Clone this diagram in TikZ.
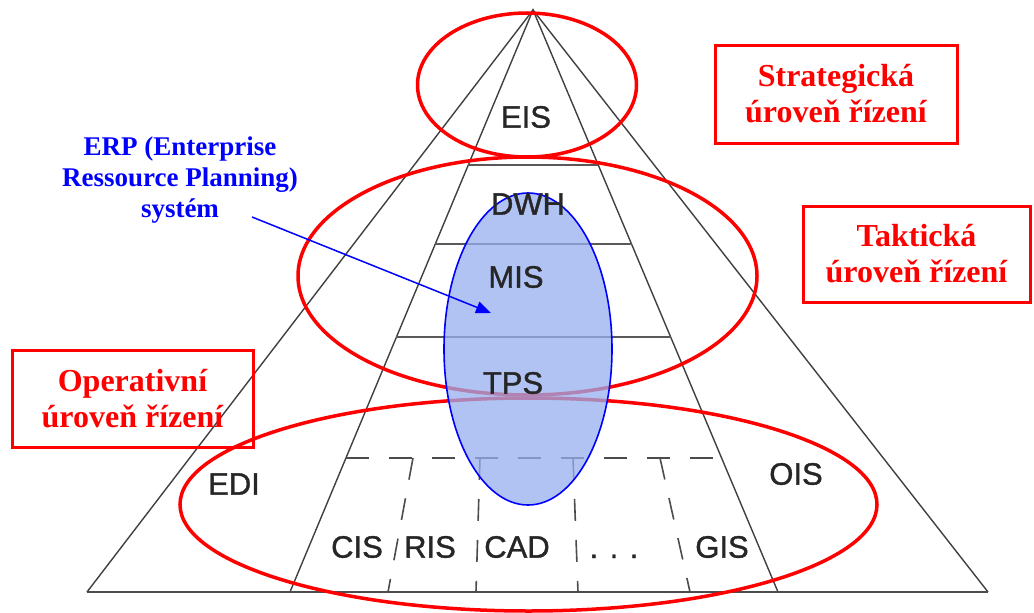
\documentclass[tikz,border=0pt]{standalone}
\usepackage{fontspec}
\setmainfont{Liberation Serif}
\setsansfont{Liberation Sans}
\newfontface\sysface{Liberation Sans}[FakeBold=1.2]
\usetikzlibrary{calc,arrows.meta}

\begin{document}
\begin{tikzpicture}[x=1pt,y=-1pt,
  edge/.style={draw=black!75, line width=1.4pt},
  baseline/.style={draw=black!70, line width=2pt},
  sep/.style={draw=black!65, line width=1.8pt},
  dsep/.style={draw=black!70, line width=1.6pt, dash pattern=on 23pt off 20pt},
  level/.style={draw=red, line width=3.5pt},
  erp/.style={draw=blue, line width=1.6pt, fill={rgb,255:red,150;green,175;blue,238}, fill opacity=0.75},
  sys/.style={font=\sysface\fontsize{31}{36}\selectfont, text=black!85, inner sep=0pt},
  tier/.style={draw=red, line width=3pt, align=center, text=red, inner sep=0pt,
    font=\bfseries\fontsize{32}{36}\selectfont},
  note/.style={align=center, text=blue, inner sep=0pt, font=\bfseries\fontsize{27}{31}\selectfont}
]
\useasboundingbox (0,0) rectangle (1034,613);

% pyramid outline
\coordinate (apex) at (533,10);
\coordinate (bl) at (87,592);
\coordinate (br) at (988,592);
\coordinate (il) at (290,592);
\coordinate (ir) at (778,592);
\draw[edge] (bl) -- (apex) -- (br);
\draw[edge] (il) -- (apex) -- (ir);
\draw[baseline] (bl) -- (br);

% layer separators
\draw[sep] ($(apex)!0.2663!(il)$) -- ($(apex)!0.2663!(ir)$);
\draw[sep] ($(apex)!0.4021!(il)$) -- ($(apex)!0.4021!(ir)$);
\draw[sep] ($(apex)!0.5619!(il)$) -- ($(apex)!0.5619!(ir)$);
\draw[dsep] ($(apex)!0.7698!(il)$) -- ($(apex)!0.7698!(ir)$);

% dashed splits of the operational layer
\coordinate (d1t) at (413,458); \coordinate (d1b) at (388,592);
\coordinate (d2t) at (480,458); \coordinate (d2b) at (476,592);
\coordinate (d3t) at (573,458); \coordinate (d3b) at (578,592);
\coordinate (d4t) at (660,458); \coordinate (d4b) at (690,592);
\draw[dsep, dash pattern=on 22pt off 19pt] (d1t) -- (d1b);
\draw[dsep, dash pattern=on 22pt off 19pt] (d2t) -- (d2b);
\draw[dsep, dash pattern=on 22pt off 19pt] (d3t) -- (d3b);
\draw[dsep, dash pattern=on 22pt off 19pt] (d4t) -- (d4b);

% management levels
\draw[level] (527,85) ellipse [x radius=109.5, y radius=72];
\draw[level] (527.5,276) ellipse [x radius=229.5, y radius=119];
\draw[level] (528.5,504.5) ellipse [x radius=348.5, y radius=106.5];

% ERP coverage
\draw[erp] (528,349) ellipse [x radius=84, y radius=156];

% system labels
\node[sys] (eis) at (526,117) {EIS};
\node[sys] (dwh) at (528,204) {DWH};
\node[sys] (mis) at (516,277) {MIS};
\node[sys] (tps) at (513,383) {TPS};
\node[sys] (edi) at (234,484) {EDI};
\node[sys] (ois) at (796,474) {OIS};
\node[sys] (cis) at (357,547) {CIS};
\node[sys] (ris) at (430,547) {RIS};
\node[sys] (cad) at (517,547) {CAD};
\node[sys, anchor=base] (more) at (614,558) {. . .};
\node[sys] (gis) at (722,547) {GIS};

% level boxes
\node[tier, minimum width=242pt, minimum height=98pt] (strat) at (836,94)
  {Strategická\\úroveň řízení};
\node[tier, minimum width=227pt, minimum height=96pt] (takt) at (916.5,254)
  {Taktická\\úroveň řízení};
\node[tier, minimum width=241pt, minimum height=97pt] (oper) at (132.5,398.5)
  {Operativní\\úroveň řízení};

% ERP note and pointer
\node[note] (erpnote) at (180,180) {ERP (Enterprise\\Ressource Planning)\\systém};
\coordinate (erpFrom) at (252,217);
\coordinate (erpTo) at (491,313);
\draw[blue, line width=1.5pt, -{Triangle[length=15pt,width=12pt]}] (erpFrom) -- (erpTo);
\end{tikzpicture}
\end{document}
